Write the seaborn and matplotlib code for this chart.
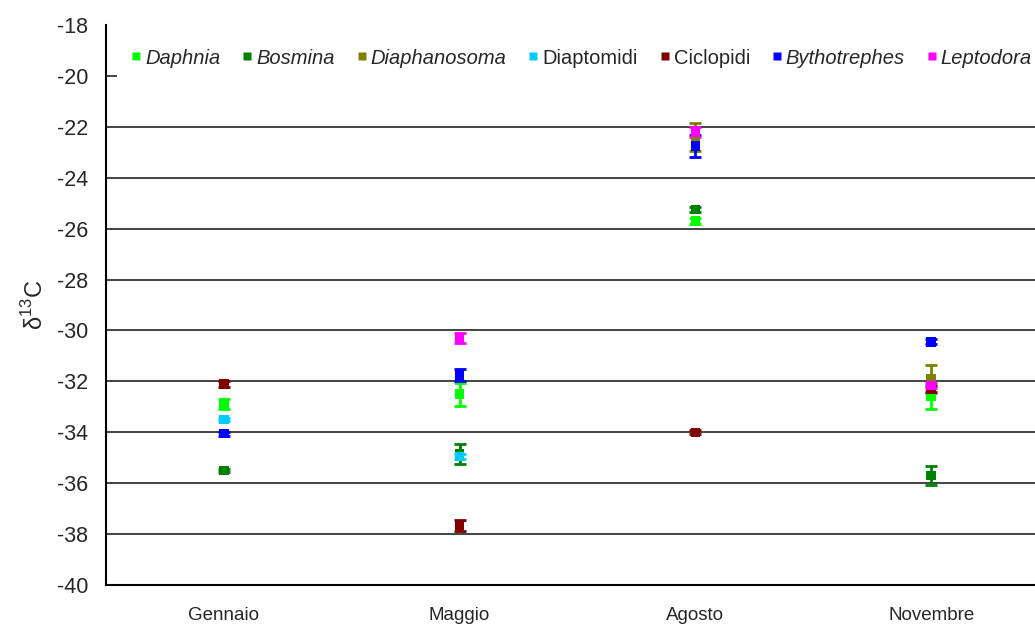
import matplotlib
matplotlib.use("Agg")
import matplotlib.pyplot as plt
import pandas as pd
import seaborn as sns
import numpy as np

# ------------------------------------------------------
# Data
# ------------------------------------------------------

months = ["Gennaio", "Maggio", "Agosto", "Novembre"]
species = ["Daphnia", "Bosmina", "Diaphanosoma", "Diaptomidi",
           "Ciclopidi", "Bythotrephes", "Leptodora"]
italic = [True, True, True, False, False, True, True]
colors = ["#00FF00", "#008000", "#808000", "#00CCFF",
          "#800000", "#0000FF", "#FF00FF"]

# mean d13C per month (nan = not sampled)
daphnia = [-32.9, -32.5, -25.7, -32.6]
bosmina = [-35.5, -34.85, -25.25, -35.7]
diaphanosoma = [np.nan, np.nan, -22.4, -31.9]
diaptomidi = [-33.5, -34.95, np.nan, np.nan]
ciclopidi = [-32.1, -37.65, -34.0, -32.3]
bythotrephes = [-34.05, -31.75, -22.75, -30.45]
leptodora = [np.nan, -30.3, -22.2, -32.15]

# standard errors
daphnia_err = [0.2, 0.45, 0.1, 0.48]
bosmina_err = [0.05, 0.38, 0.1, 0.36]
diaphanosoma_err = [np.nan, np.nan, 0.54, 0.55]
diaptomidi_err = [0.05, 0.1, np.nan, np.nan]
ciclopidi_err = [0.12, 0.22, 0.08, 0.1]
bythotrephes_err = [0.08, 0.22, 0.42, 0.1]
leptodora_err = [np.nan, 0.2, 0.2, 0.1]

means = [daphnia, bosmina, diaphanosoma, diaptomidi, ciclopidi, bythotrephes, leptodora]
errs = [daphnia_err, bosmina_err, diaphanosoma_err, diaptomidi_err,
        ciclopidi_err, bythotrephes_err, leptodora_err]

rows = []
for sp, m, e in zip(species, means, errs):
    for i, month in enumerate(months):
        rows.append({"species": sp, "month": month, "pos": i, "d13C": m[i], "err": e[i]})
df = pd.DataFrame(rows).dropna()

# ------------------------------------------------------
# Plot
# ------------------------------------------------------

sns.set_style("white")
plt.rcParams["font.family"] = ["Liberation Sans", "DejaVu Sans"]
plt.rcParams["mathtext.fontset"] = "custom"
plt.rcParams["mathtext.rm"] = "Liberation Sans"

fig = plt.figure(figsize=(10.35, 6.24), dpi=100)
ax = fig.add_axes([106 / 1035, 1 - 585 / 624, 943 / 1035, 560 / 624])

for sp, col in zip(species, colors):
    sub = df[df["species"] == sp]
    ax.errorbar(sub["pos"], sub["d13C"], yerr=sub["err"], fmt="none",
                ecolor=col, elinewidth=2, capsize=4, capthick=2, zorder=2)

sns.scatterplot(data=df, x="pos", y="d13C", hue="species", hue_order=species,
                palette=colors, marker="s", s=45, edgecolor="none",
                ax=ax, zorder=3)

ax.set_xlim(-0.5, len(months) - 0.5)
ax.set_ylim(-40, -18)
ax.set_yticks(np.arange(-40, -17, 2))
ax.set_yticklabels([str(v) for v in range(-40, -17, 2)], fontsize=15.5)
ax.yaxis.grid(True, color="#222222", linewidth=1.2)
ax.yaxis.get_gridlines()[-1].set_visible(False)
ax.tick_params(axis="y", direction="inout", length=11, width=1.2, color="black", pad=7.5)

ax.set_xticks(np.arange(-0.5, len(months), 1.0))
ax.set_xticklabels([])
ax.set_xticks(np.arange(len(months)), minor=True)
ax.set_xticklabels(months, minor=True, fontsize=13.5)
ax.tick_params(axis="x", which="major", direction="out", length=7, width=1.2, color="black")
ax.tick_params(axis="x", which="minor", length=0, pad=16)

for s in ["top", "right"]:
    ax.spines[s].set_visible(False)
for s in ["left", "bottom"]:
    ax.spines[s].set_color("black")
    ax.spines[s].set_linewidth(1.5)

ax.set_xlabel("")
ax.set_ylabel(r"δ$^{\mathrm{13}}$C", fontsize=17, labelpad=6)

handles, labels = ax.get_legend_handles_labels()
leg = ax.legend(handles, labels, loc="center left", bbox_to_anchor=(0.0117, 0.941),
                ncol=len(species), frameon=True, fontsize=14.5, handletextpad=0.2,
                columnspacing=1.08, markerscale=0.9, borderaxespad=0,
                handlelength=0.5, borderpad=0.7)
leg.get_frame().set_facecolor("white")
leg.get_frame().set_edgecolor("none")
leg.get_frame().set_alpha(1)
leg.set_zorder(5)
for txt, it in zip(leg.get_texts(), italic):
    if it:
        txt.set_style("italic")

fig.savefig("out.png", dpi=100)
